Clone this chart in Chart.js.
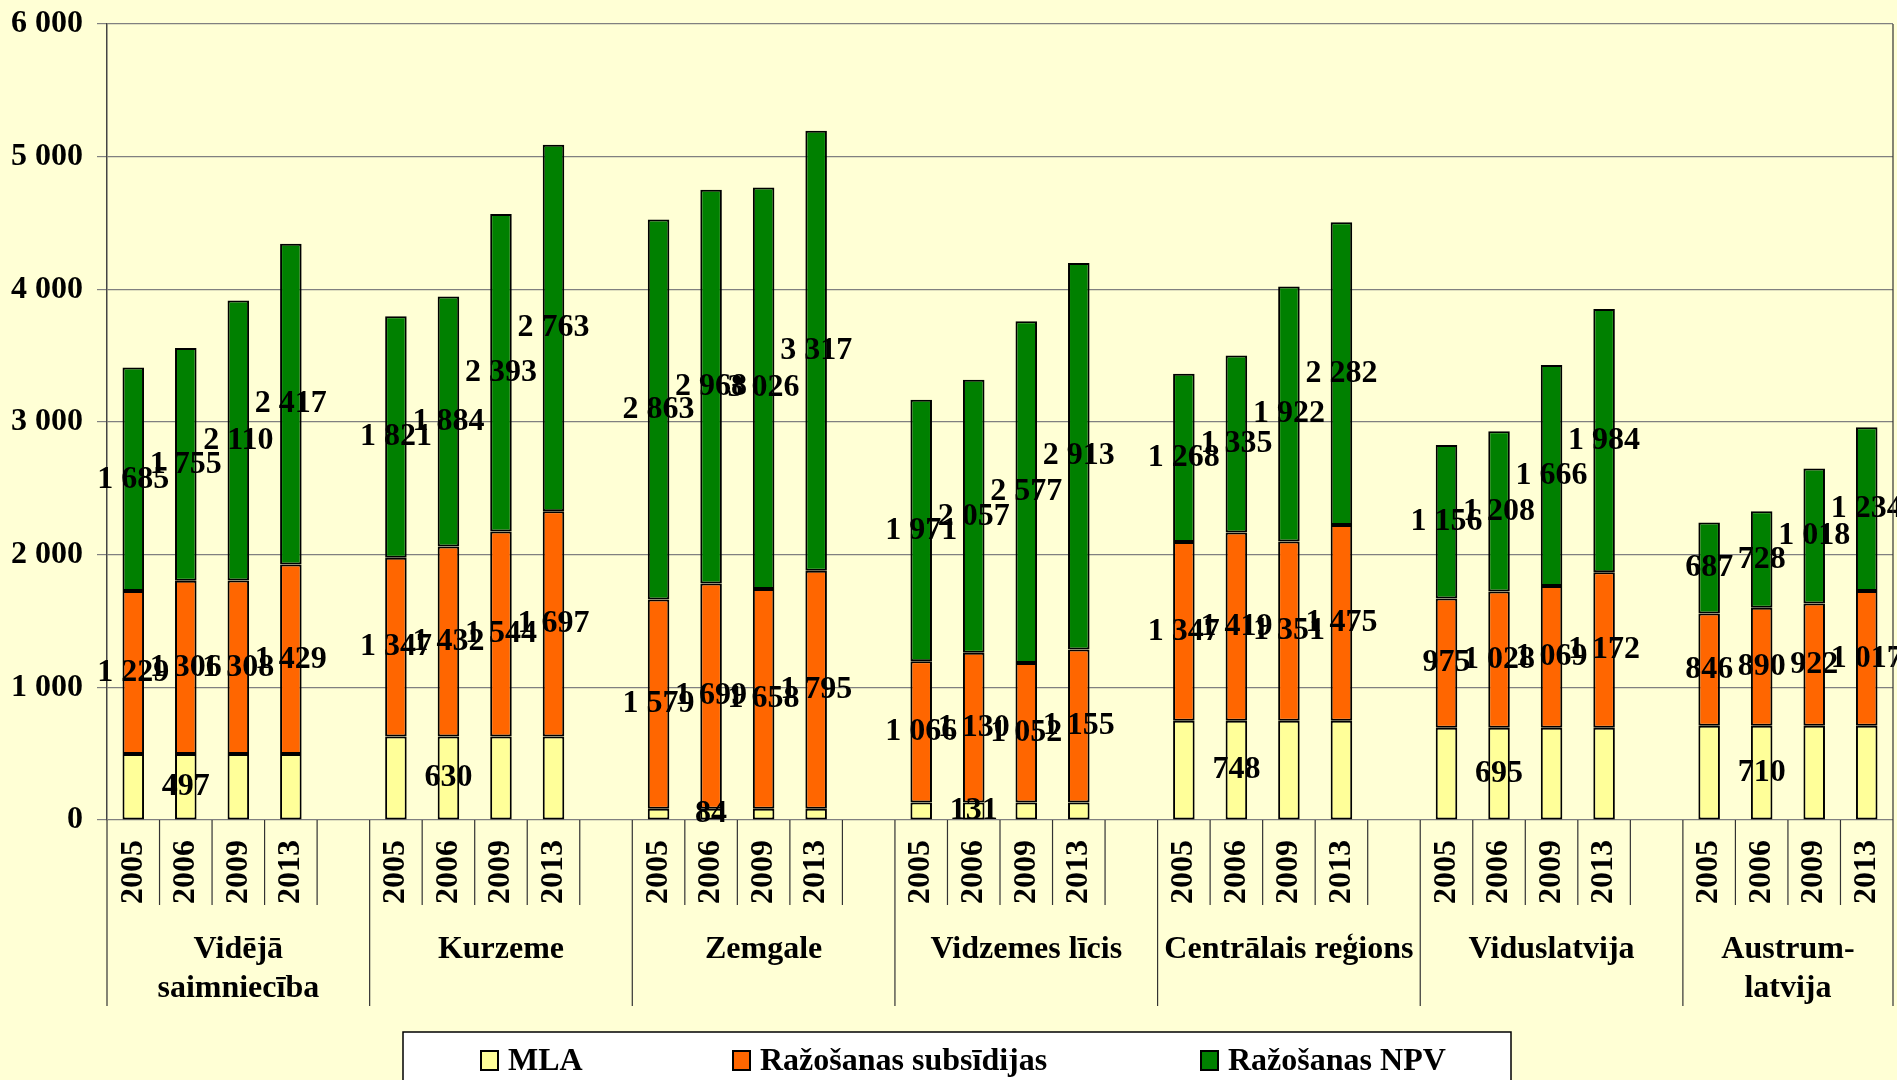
<!DOCTYPE html>
<html><head><meta charset="utf-8">
<script src="https://cdn.jsdelivr.net/npm/chart.js@4.4.1/dist/chart.umd.min.js"></script>
<style>html,body{margin:0;padding:0;background:#FFFFD5;}#wrap{width:1897px;height:1080px;position:relative;}</style>
</head><body><div id="wrap"><canvas id="c"></canvas></div>
<script>
const regions = [['Vidējā','saimniecība'],['Kurzeme'],['Zemgale'],['Vidzemes līcis'],['Centrālais reģions'],['Viduslatvija'],['Austrum-','latvija']];
const years = ['2005','2006','2009','2013'];
const seriesNames = ['MLA','Ražošanas subsīdijas','Ražošanas NPV'];
const mla = [[497,497,497,497],[630,630,630,630],[84,84,84,84],[131,131,131,131],[748,748,748,748],[695,695,695,695],[710,710,710,710]];
const subsidies = [[1229,1306,1308,1429],[1347,1432,1544,1697],[1579,1699,1658,1795],[1066,1130,1052,1155],[1347,1419,1351,1475],[975,1028,1069,1172],[846,890,922,1017]];
const npv = [[1685,1755,2110,2417],[1821,1884,2393,2763],[2863,2968,3026,3317],[1971,2057,2577,2913],[1268,1335,1922,2282],[1156,1208,1666,1984],[687,728,1018,1234]];
const yTicks = [0,1000,2000,3000,4000,5000,6000];

const colors = ['#FFFF99','#FF6600','#008000'];
const FAMILY = '"Liberation Serif", "Times New Roman", serif';
const FONT = 'bold 32px ' + FAMILY;
const fmt = v => String(v).replace(/\B(?=(\d{3})+(?!\d))/g, ' ');

const labels = [], yearIdx = [];
const flat = [[],[],[]];
regions.forEach((r,g)=>{
  years.forEach((y,k)=>{
    labels.push(y); yearIdx.push(k);
    flat[0].push(mla[g][k]); flat[1].push(subsidies[g][k]); flat[2].push(npv[g][k]);
  });
  if(g < regions.length-1){ labels.push(''); yearIdx.push(-1); flat.forEach(a=>a.push(null)); }
});

const deco = {
  id:'deco',
  afterDatasetsDraw(chart){
    const ctx = chart.ctx;
    ctx.save(); ctx.font = FONT; ctx.fillStyle = '#000'; ctx.textAlign = 'center'; ctx.textBaseline = 'middle';
    chart.data.datasets.forEach((ds,di)=>{
      const meta = chart.getDatasetMeta(di);
      meta.data.forEach((el,i)=>{
        const v = ds.data[i]; if(v==null) return;
        if(di===0 && yearIdx[i]!==1) return;
        ctx.fillText(fmt(v), el.x, (el.y+el.base)/2);
      });
    });
    ctx.restore();
  },
  afterDraw(chart){
    const ctx = chart.ctx, xs = chart.scales.x, ys = chart.scales.y, ca = chart.chartArea;
    const n = labels.length;
    const w = xs.getPixelForValue(1) - xs.getPixelForValue(0);
    const x0 = xs.getPixelForValue(0) - w/2;
    ctx.save();
    ctx.font = FONT; ctx.fillStyle = '#000'; ctx.textAlign = 'right'; ctx.textBaseline = 'middle';
    yTicks.forEach(v=>ctx.fillText(fmt(v), ca.left - 24, ys.getPixelForValue(v)));
    ctx.strokeStyle = '#333'; ctx.lineWidth = 1.2;
    ctx.beginPath(); ctx.moveTo(ca.right, ca.top); ctx.lineTo(ca.right, ca.bottom); ctx.stroke();
    for(let b=0;b<=n;b++){
      const x = x0 + b*w;
      const long = (b%5===0) || b===n;
      ctx.beginPath(); ctx.moveTo(x, ca.bottom); ctx.lineTo(x, ca.bottom + (long?186:85)); ctx.stroke();
    }
    labels.forEach((lab,i)=>{
      if(!lab) return;
      const x = xs.getPixelForValue(i);
      ctx.save(); ctx.translate(x, ca.bottom + 20); ctx.rotate(-Math.PI/2);
      ctx.textAlign = 'right'; ctx.textBaseline = 'middle'; ctx.fillText(lab, 0, 0); ctx.restore();
    });
    ctx.textAlign = 'center'; ctx.textBaseline = 'middle';
    regions.forEach((r,g)=>{
      const a = x0 + 5*g*w, bnd = x0 + Math.min(5*g+5, n)*w;
      const cx = (a+bnd)/2;
      r.forEach((line,li)=>ctx.fillText(line, cx, ca.bottom + 130 + li*39));
    });
    const lx = 403, ly = 1032;
    ctx.fillStyle = '#fff'; ctx.fillRect(lx, ly, 1108, 60);
    ctx.strokeStyle = '#000'; ctx.lineWidth = 1.5; ctx.strokeRect(lx, ly, 1108, 60);
    const offs = [78, 330, 798];
    seriesNames.forEach((s,i)=>{
      const bx = lx + offs[i];
      ctx.fillStyle = colors[i]; ctx.fillRect(bx, 1051, 17, 19);
      ctx.strokeStyle = '#000'; ctx.lineWidth = 2; ctx.strokeRect(bx, 1051, 17, 19);
      ctx.fillStyle = '#000'; ctx.textAlign = 'left'; ctx.textBaseline = 'middle';
      ctx.fillText(s, bx + 27, 1062);
    });
    ctx.restore();
  }
};

new Chart(document.getElementById('c'), {
  type:'bar',
  data:{ labels, datasets: seriesNames.map((s,i)=>({label:s, data:flat[i], backgroundColor:colors[i], borderColor:'#000', borderWidth:2, borderSkipped:false})) },
  options:{
    responsive:true, maintainAspectRatio:false, animation:false,
    layout:{padding:{top:24,right:4,left:0,bottom:0}},
    plugins:{legend:{display:false}, tooltip:{enabled:false}},
    datasets:{bar:{barPercentage:0.41, categoryPercentage:1}},
    scales:{
      x:{stacked:true, grid:{display:false}, border:{display:false}, ticks:{display:false}, afterFit(s){s.height=260;}},
      y:{stacked:true, min:0, max:6000,
         afterBuildTicks(s){ s.ticks = yTicks.map(v=>({value:v})); },
         ticks:{display:false},
         grid:{color:'#808080', lineWidth:1.2, tickLength:10},
         border:{color:'#444', width:1.5},
         afterFit(s){ s.width=107; }}
    }
  },
  plugins:[deco]
});
</script></body></html>
